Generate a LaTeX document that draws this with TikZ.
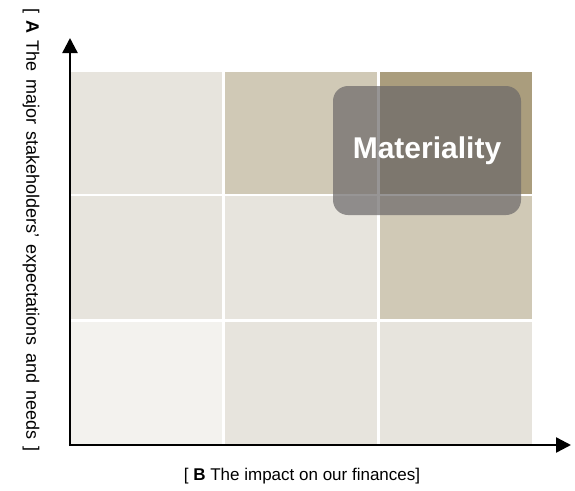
\documentclass[tikz,border=0pt]{standalone}
\usepackage{fontspec}
\setmainfont{Liberation Sans}
\usetikzlibrary{arrows.meta}
\definecolor{cLight}{HTML}{E7E4DD}
\definecolor{cMid}{HTML}{D0C9B6}
\definecolor{cDark}{HTML}{AA9D7D}
\definecolor{cPale}{HTML}{F3F2EE}
\definecolor{cBox}{RGB}{107,104,105}
\begin{document}
\begin{tikzpicture}[x=1pt,y=-1pt,
  cell/.style={draw=none,inner sep=0pt,outer sep=0pt,anchor=north west},
  wcell/.style={cell,minimum width=151pt},
  rowA/.style={minimum height=122pt},
  rowB/.style={minimum height=123pt},
  rowC/.style={minimum height=122pt},
  axisline/.style={line width=2.4pt,-{Triangle[length=15pt,width=15pt]}},
  matbox/.style={fill=cBox,fill opacity=0.7,text opacity=1,text=white,rounded corners=15pt,
    minimum width=188pt,minimum height=129pt,inner sep=0pt,
    font=\fontsize{30}{34}\selectfont\bfseries},
  lab/.style={font=\fontsize{17}{20}\selectfont,inner sep=0pt},
  ylabstyle/.style={font=\fontsize{18}{22}\selectfont,inner sep=0pt}
]
\useasboundingbox (0,0) rectangle (575,490);
\fill[white] (0,0) rectangle (575,490);
% grid cells
\node[wcell,rowA,fill=cLight] (c11) at (71,72) {};
\node[wcell,rowA,fill=cMid,minimum width=152pt] (c12) at (225,72) {};
\node[wcell,rowA,fill=cDark,minimum width=152pt] (c13) at (380,72) {};
\node[wcell,rowB,fill=cLight] (c21) at (71,196) {};
\node[wcell,rowB,fill=cLight,minimum width=152pt] (c22) at (225,196) {};
\node[wcell,rowB,fill=cMid,minimum width=152pt] (c23) at (380,196) {};
\node[wcell,rowC,fill=cPale] (c31) at (71,322) {};
\node[wcell,rowC,fill=cLight,minimum width=152pt] (c32) at (225,322) {};
\node[wcell,rowC,fill=cLight,minimum width=152pt] (c33) at (380,322) {};
% materiality box
\node[matbox] (mat) at (427,150.5) {\raisebox{2pt}{Materiality}};
% axes
\coordinate (o) at (70,445);
\coordinate (ytip) at (70,38);
\coordinate (xtip) at (571,445);
\draw[axisline] ([yshift=-1.2pt]o) -- (ytip);
\draw[axisline] ([xshift=-1.2pt]o) -- (xtip);
% labels
\node[ylabstyle,rotate=-90] (ylab) at (31,230) {\makebox[444pt][s]{[ \textbf{A} The major stakeholders' expectations and needs ]}};
\node[lab] (xlab) at (302,476) {[ \textbf{B} The impact on our finances]};
\end{tikzpicture}
\end{document}
